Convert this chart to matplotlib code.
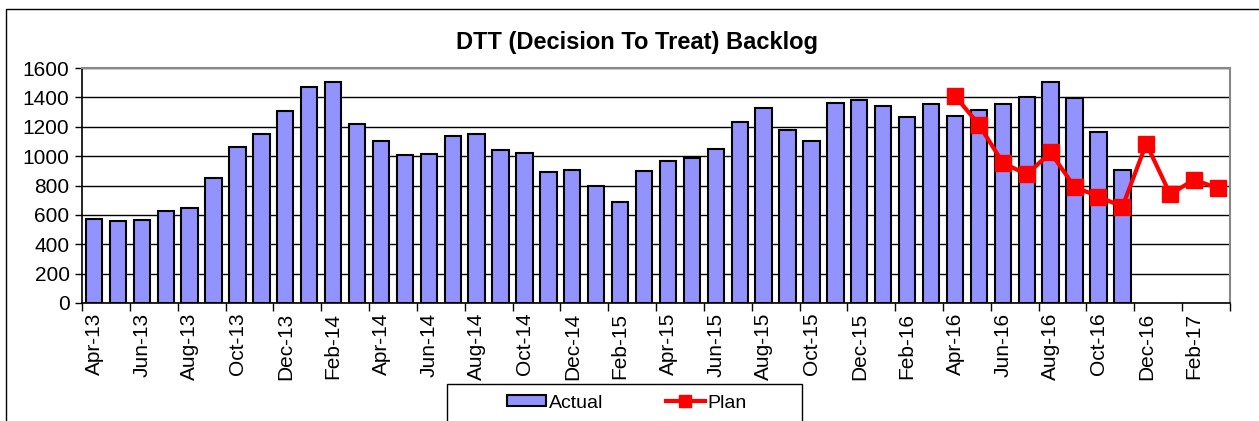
import matplotlib.pyplot as plt
import matplotlib.patches as mpatches
from matplotlib.lines import Line2D
import numpy as np

plt.rcParams['font.family'] = ['Liberation Sans', 'DejaVu Sans']

# months Apr-13 .. Mar-17
months = ['Apr-13', 'May-13', 'Jun-13', 'Jul-13', 'Aug-13', 'Sep-13', 'Oct-13', 'Nov-13',
          'Dec-13', 'Jan-14', 'Feb-14', 'Mar-14', 'Apr-14', 'May-14', 'Jun-14', 'Jul-14',
          'Aug-14', 'Sep-14', 'Oct-14', 'Nov-14', 'Dec-14', 'Jan-15', 'Feb-15', 'Mar-15',
          'Apr-15', 'May-15', 'Jun-15', 'Jul-15', 'Aug-15', 'Sep-15', 'Oct-15', 'Nov-15',
          'Dec-15', 'Jan-16', 'Feb-16', 'Mar-16', 'Apr-16', 'May-16', 'Jun-16', 'Jul-16',
          'Aug-16', 'Sep-16', 'Oct-16', 'Nov-16', 'Dec-16', 'Jan-17', 'Feb-17', 'Mar-17']

actual = [575, 560, 565, 625, 645, 850, 1065, 1150, 1310, 1470, 1505, 1220,
          1105, 1005, 1015, 1135, 1150, 1040, 1020, 890, 905, 800, 690, 900,
          970, 990, 1050, 1235, 1325, 1175, 1105, 1365, 1380, 1340, 1265, 1355,
          1275, 1315, 1355, 1405, 1505, 1395, 1165, 905]

plan_start = 36  # Apr-16
plan = [1410, 1215, 955, 875, 1025, 790, 725, 655, 1085, 740, 840, 780]

W, H = 1259, 421
fig = plt.figure(figsize=(W / 100, H / 100), dpi=100)
ax = fig.add_axes([82 / W, 1 - 303 / H, (1230 - 82) / W, (303 - 68) / H])

x = np.arange(len(months))
ax.bar(x[:len(actual)], actual, width=0.68, color='#9393ff', edgecolor='black',
       linewidth=1.5, zorder=3)
xp = x[plan_start:plan_start + len(plan)]
ax.plot(xp, plan, color='#ff0000', linewidth=3, marker='s', markersize=12, zorder=4)

ax.set_xlim(-0.5, len(months) - 0.5)
ax.set_ylim(0, 1600)
ax.set_yticks(range(0, 1601, 200))
ax.yaxis.grid(True, color='black', linewidth=1, zorder=0)
ax.tick_params(axis='y', labelsize=15, length=5, direction='out', width=1, pad=4)

# labels on every other month, tick marks between categories
ax.set_xticks(x[::2])
ax.set_xticklabels(months[::2], rotation=90, fontsize=15)
ax.tick_params(axis='x', length=0, pad=7)
ax.set_xticks(np.arange(-0.5, len(months), 2), minor=True)
ax.tick_params(axis='x', which='minor', length=6, width=1)

for s in ['top', 'right']:
    ax.spines[s].set_color('#888888')
    ax.spines[s].set_linewidth(1.5)
ax.spines['left'].set_linewidth(1.2)
ax.spines['bottom'].set_linewidth(1.2)

fig.text(637 / W, 1 - 42 / H, 'DTT (Decision To Treat) Backlog', ha='center',
         va='center', fontsize=17, fontweight='bold')

# outer chart frame
fig.patches.append(mpatches.Rectangle((6 / W, -0.1), 1.2, 1 - 9 / H + 0.1,
                                      transform=fig.transFigure, fill=False,
                                      edgecolor='black', linewidth=1))
# legend box (runs off the bottom edge like the reference)
fig.patches.append(mpatches.Rectangle((447 / W, -0.1), (802 - 447) / W, 0.1 + 1 - 384 / H,
                                      transform=fig.transFigure, fill=False,
                                      edgecolor='black', linewidth=1))

handles = [mpatches.Patch(facecolor='#9393ff', edgecolor='black', linewidth=1.5),
           Line2D([], [], color='#ff0000', linewidth=3, marker='s', markersize=9)]
leg = fig.legend(handles, ['Actual', 'Plan'], ncol=2, loc='center',
                 bbox_to_anchor=(627 / W, 1 - 403 / H), fontsize=14,
                 frameon=False, columnspacing=3.2, handlelength=2.0,
                 handleheight=0.5, handletextpad=0.15, borderaxespad=0)

plt.savefig('out.png', dpi=100)
